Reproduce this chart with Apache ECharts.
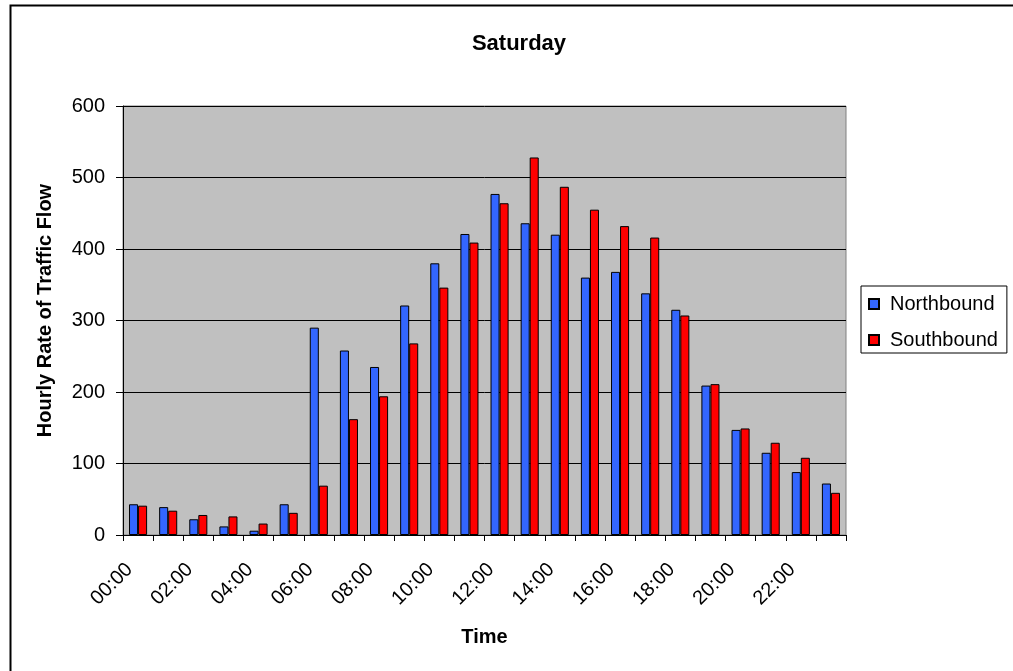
<!DOCTYPE html>
<html>
<head>
<meta charset="utf-8">
<script src="https://cdn.jsdelivr.net/npm/echarts@6/dist/echarts.min.js"></script>
<style>
html,body{margin:0;padding:0;background:#fff;}
#chart{width:1013px;height:671px;}
</style>
</head>
<body>
<div id="chart"></div>
<script>
const categories = ['00:00','01:00','02:00','03:00','04:00','05:00','06:00','07:00','08:00','09:00','10:00','11:00','12:00','13:00','14:00','15:00','16:00','17:00','18:00','19:00','20:00','21:00','22:00','23:00'];
const northbound = [43,39,22,12,6,43,290,258,235,321,380,421,477,436,420,360,368,338,315,209,147,115,88,72];
const southbound = [41,34,28,26,16,31,69,162,194,268,346,409,464,528,487,455,432,416,307,211,149,129,108,59];
const yTicks = [0,100,200,300,400,500,600];

const FONT = '"Liberation Sans", Arial, sans-serif';
const chart = echarts.init(document.getElementById('chart'));
chart.setOption({
  animation: false,
  backgroundColor: '#ffffff',
  textStyle: {fontFamily: FONT},
  title: {
    text: 'Saturday',
    left: 514, top: 28,
    textAlign: 'center',
    textStyle: {fontFamily: FONT, fontSize: 22, fontWeight: 'bold', color: '#000'}
  },
  legend: {
    orient: 'vertical',
    left: 861, top: 286,
    padding: [8, 9, 3, 7],
    itemGap: 16,
    itemWidth: 10, itemHeight: 10,
    borderColor: '#000', borderWidth: 1,
    backgroundColor: '#fff',
    icon: 'rect',
    textStyle: {fontFamily: FONT, fontSize: 20, color: '#000', padding: [0,0,0,6]},
    data: ['Northbound', 'Southbound']
  },
  grid: {
    left: 123, right: 167, top: 106, bottom: 136,
    show: true, backgroundColor: '#C0C0C0', borderColor: '#808080', borderWidth: 1
  },
  xAxis: {
    type: 'category',
    data: categories,
    name: 'Time',
    nameLocation: 'middle',
    nameGap: 92,
    nameTextStyle: {fontFamily: FONT, fontSize: 20, fontWeight: 'bold', color: '#000'},
    axisLine: {lineStyle: {color: '#000', width: 1}},
    axisTick: {show: true, alignWithLabel: false, interval: 0, length: 6, lineStyle: {color: '#000'}},
    axisLabel: {interval: 1, rotate: 45, fontFamily: FONT, fontSize: 20, color: '#000', margin: 23,
      padding: [0, 12, 0, 0]},
    splitLine: {show: false}
  },
  yAxis: {
    type: 'value',
    min: 0, max: 600, interval: 100,
    name: 'Hourly Rate of Traffic Flow',
    nameLocation: 'middle',
    nameGap: 68,
    nameTextStyle: {fontFamily: FONT, fontSize: 20, fontWeight: 'bold', color: '#000',
      padding: [0, 0, 0, 20]},
    axisLine: {show: true, lineStyle: {color: '#000', width: 1}},
    axisTick: {show: true, length: 7, lineStyle: {color: '#000'}},
    axisLabel: {fontFamily: FONT, fontSize: 20, color: '#000', margin: 18,
      formatter: v => yTicks.includes(v) ? String(v) : ''},
    splitLine: {show: true, lineStyle: {color: '#000', width: 1}}
  },
  series: [
    {name: 'Northbound', type: 'bar', data: northbound, barGap: '0%', barCategoryGap: '40%',
     itemStyle: {color: '#3366FF', borderColor: '#000', borderWidth: 1}},
    {name: 'Southbound', type: 'bar', data: southbound, barGap: '0%', barCategoryGap: '40%',
     itemStyle: {color: '#FF0000', borderColor: '#000', borderWidth: 1}}
  ],
  graphic: [
    {type: 'rect', silent: true, z: 100,
     shape: {x: 10.5, y: 5.5, width: 1100, height: 800},
     style: {fill: 'none', stroke: '#000', lineWidth: 2}}
  ]
});
</script>
</body>
</html>
